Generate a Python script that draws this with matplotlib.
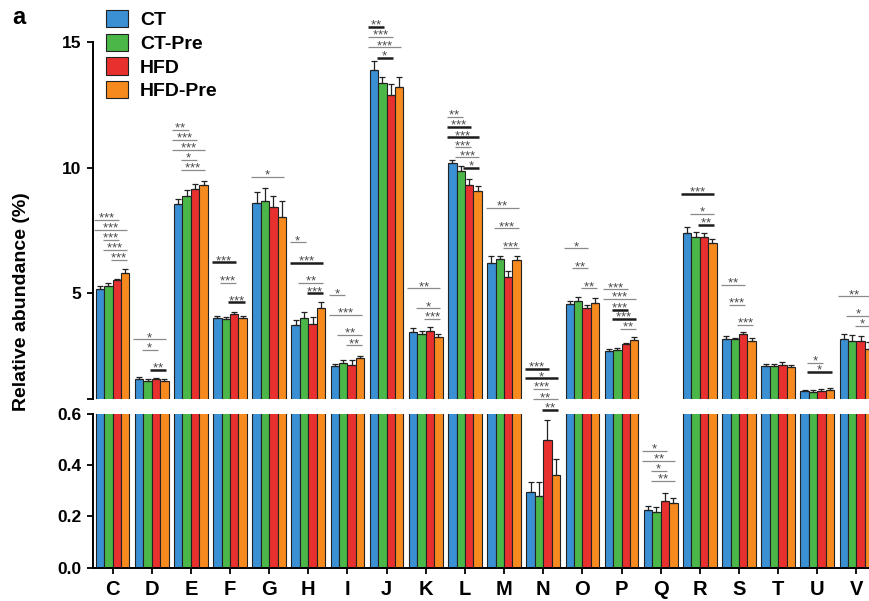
import numpy as np
import matplotlib.pyplot as plt
from matplotlib.patches import Patch

plt.rcParams['font.family'] = ['Liberation Sans', 'DejaVu Sans']
plt.rcParams['mathtext.fontset'] = 'custom'
plt.rcParams['mathtext.rm'] = 'Liberation Sans'
plt.rcParams['mathtext.it'] = 'Liberation Sans'

groups = list("CDEFGHIJKLMNOPQRSTUV")
series = ['CT', 'CT-Pre', 'HFD', 'HFD-Pre']
colors = ['#3b8fd3', '#4bb748', '#e8302f', '#f68a1f']

# mean relative abundance (%) and SEM per group
ct = [5.16, 1.58, 8.55, 4.01, 8.58, 3.75, 2.11, 13.89, 3.47, 10.17,
      6.20, 0.295, 4.57, 2.72, 0.224, 7.39, 3.18, 2.13, 1.11, 3.17]
ct_err = [0.13, 0.10, 0.19, 0.11, 0.46, 0.19, 0.10, 0.35, 0.14, 0.13,
          0.30, 0.041, 0.14, 0.05, 0.018, 0.24, 0.13, 0.08, 0.05, 0.20]
ct_pre = [5.29, 1.52, 8.87, 3.97, 8.69, 4.01, 2.25, 13.36, 3.38, 9.85,
          6.38, 0.279, 4.71, 2.74, 0.218, 7.23, 3.17, 2.12, 1.07, 3.11]
ct_pre_err = [0.11, 0.06, 0.24, 0.08, 0.49, 0.24, 0.12, 0.26, 0.13, 0.23,
              0.12, 0.057, 0.15, 0.08, 0.020, 0.21, 0.07, 0.08, 0.08, 0.22]
hfd = [5.53, 1.60, 9.14, 4.20, 8.42, 3.79, 2.17, 12.90, 3.51, 9.30,
       5.64, 0.500, 4.42, 2.97, 0.259, 7.25, 3.38, 2.15, 1.13, 3.11]
hfd_err = [0.06, 0.05, 0.21, 0.08, 0.46, 0.28, 0.18, 0.43, 0.15, 0.26,
           0.24, 0.078, 0.13, 0.04, 0.031, 0.14, 0.07, 0.11, 0.05, 0.20]
hfd_pre = [5.80, 1.50, 9.31, 4.01, 8.05, 4.41, 2.43, 13.21, 3.26, 9.07,
           6.31, 0.361, 4.63, 3.13, 0.253, 6.99, 3.09, 2.08, 1.15, 2.79]
hfd_pre_err = [0.16, 0.08, 0.16, 0.10, 0.62, 0.26, 0.10, 0.40, 0.13, 0.20,
               0.19, 0.064, 0.17, 0.12, 0.020, 0.18, 0.12, 0.09, 0.08, 0.28]

means = [ct, ct_pre, hfd, hfd_pre]
errs = [ct_err, ct_pre_err, hfd_err, hfd_pre_err]

# significance: group, first bar, last bar, stars, height, heavy line
sig_upper = [
    ('C', 0, 2, '***', 7.92, False), ('C', 0, 3, '***', 7.52, False),
    ('C', 1, 2, '***', 7.12, False), ('C', 1, 3, '***', 6.72, False),
    ('C', 2, 3, '***', 6.33, False),
    ('D', 0, 3, '*', 3.17, False), ('D', 1, 2, '*', 2.74, False),
    ('D', 2, 3, '**', 1.95, True),
    ('E', 0, 1, '**', 11.50, False), ('E', 0, 2, '***', 11.10, False),
    ('E', 0, 3, '***', 10.70, False), ('E', 1, 2, '*', 10.30, False),
    ('E', 1, 3, '***', 9.91, False),
    ('F', 0, 2, '***', 6.23, True), ('F', 1, 2, '***', 5.42, False),
    ('F', 2, 3, '***', 4.64, True),
    ('G', 0, 3, '*', 9.64, False),
    ('H', 0, 1, '*', 7.03, False), ('H', 0, 3, '***', 6.21, True),
    ('H', 1, 3, '**', 5.42, False), ('H', 2, 3, '***', 5.00, True),
    ('I', 0, 1, '*', 4.92, False), ('I', 0, 3, '***', 4.14, False),
    ('I', 1, 3, '**', 3.34, False), ('I', 2, 3, '**', 2.93, False),
    ('J', 0, 1, '**', 15.61, True), ('J', 0, 2, '***', 15.19, False),
    ('J', 0, 3, '***', 14.79, False), ('J', 1, 2, '*', 14.38, True),
    ('K', 0, 3, '**', 5.20, False), ('K', 1, 3, '*', 4.40, False),
    ('K', 2, 3, '***', 3.98, False),
    ('L', 0, 1, '**', 12.03, False), ('L', 0, 2, '***', 11.61, True),
    ('L', 0, 3, '***', 11.21, True), ('L', 1, 2, '***', 10.81, False),
    ('L', 1, 3, '***', 10.41, False), ('L', 2, 3, '*', 10.00, True),
    ('M', 0, 3, '**', 8.41, False), ('M', 1, 3, '***', 7.59, False),
    ('M', 2, 3, '***', 6.79, False),
    ('N', 0, 2, '***', 2.00, True), ('N', 0, 3, '*', 1.62, True),
    ('N', 1, 2, '***', 1.20, False), ('N', 1, 3, '**', 0.79, False),
    ('N', 2, 3, '**', 0.38, True),
    ('O', 0, 2, '*', 6.79, False), ('O', 1, 2, '**', 6.00, False),
    ('O', 2, 3, '**', 5.20, False),
    ('P', 0, 2, '***', 5.16, False), ('P', 0, 3, '***', 4.77, False),
    ('P', 1, 2, '***', 4.36, True), ('P', 1, 3, '***', 3.98, True),
    ('P', 2, 3, '**', 3.58, False),
    ('R', 0, 3, '***', 8.95, True), ('R', 1, 3, '*', 8.16, False),
    ('R', 2, 3, '**', 7.73, True),
    ('S', 0, 2, '**', 5.33, False), ('S', 1, 2, '***', 4.53, False),
    ('S', 2, 3, '***', 3.74, False),
    ('U', 1, 2, '*', 2.25, False), ('U', 1, 3, '*', 1.87, True),
    ('V', 0, 3, '**', 4.88, False), ('V', 1, 3, '*', 4.10, False),
    ('V', 2, 3, '*', 3.71, False),
]
sig_lower = [
    ('Q', 0, 2, '*', 0.457, False), ('Q', 0, 3, '**', 0.417, False),
    ('Q', 1, 2, '*', 0.378, False), ('Q', 1, 3, '**', 0.339, False),
]

w = 0.215
x = np.arange(len(groups))


def draw_bars(ax):
    for k in range(4):
        xs = x + (k - 1.5) * w
        ax.bar(xs, means[k], w, color=colors[k], edgecolor='#222222',
               linewidth=0.8, zorder=2)
        ax.errorbar(xs, means[k], yerr=[np.zeros(len(x)), errs[k]], fmt='none',
                    ecolor='#222222', elinewidth=0.9, capsize=2.5,
                    capthick=0.9, zorder=3)


def star_text(s):
    # braces keep mathtext from spacing the asterisks like operators
    return '$' + ''.join('{*}' for _ in s) + '$'


def draw_marks(ax, marks):
    for g, i, j, txt, y, heavy in marks:
        xc = groups.index(g)
        x0 = xc + (i - 2) * w - 0.04
        x1 = xc + (j - 1) * w - 0.06
        if heavy:
            ax.plot([x0, x1], [y, y], color='#1c1c1c', lw=1.8,
                    solid_capstyle='butt', clip_on=False, zorder=4)
        else:
            ax.plot([x0, x1], [y, y], color='#8a8a8a', lw=0.9,
                    solid_capstyle='butt', clip_on=False, zorder=4)
        ax.annotate(star_text(txt), xy=((x0 + x1) / 2, y), xytext=(0, -0.5),
                    textcoords='offset points', ha='center', va='baseline',
                    fontsize=9.5, color='#4a4a4a', annotation_clip=False)


fig = plt.figure(figsize=(8.7, 6.01), dpi=100)
ax_top = fig.add_axes([0.1069, 0.3361, 0.9, 0.594])
ax_bot = fig.add_axes([0.1069, 0.0554, 0.9, 0.2557])

for ax in (ax_top, ax_bot):
    draw_bars(ax)
    ax.set_xlim(-0.5, 19.5)
    ax.spines['top'].set_visible(False)
    ax.spines['right'].set_visible(False)
    ax.spines['left'].set_linewidth(1.4)
    ax.spines['bottom'].set_linewidth(1.4)
    ax.tick_params(direction='out', length=4.5, width=1.3, labelsize=12.5, pad=4)

ax_top.set_ylim(0.8, 15)
ax_top.spines['bottom'].set_visible(False)
ax_top.set_xticks([])
ax_top.set_yticks([0.8, 5, 10, 15])
ax_top.set_yticklabels(['', '5', '10', '15'], fontweight='bold')

ax_bot.set_ylim(0, 0.6)
ax_bot.set_yticks([0, 0.2, 0.4, 0.6])
ax_bot.set_yticklabels(['0.0', '0.2', '0.4', '0.6'], fontweight='bold')
ax_bot.set_xticks(x)
ax_bot.set_xticklabels(groups, fontweight='bold', fontsize=14.5)
ax_bot.tick_params(axis='x', length=4, pad=5)

draw_marks(ax_top, sig_upper)
draw_marks(ax_bot, sig_lower)

fig.text(0.025, 0.4975, 'Relative abundance (%)', rotation=90, ha='center',
         va='center', fontsize=14, fontweight='bold')
fig.text(12 / 870, 1 - 23.5 / 601, 'a', fontsize=17, fontweight='bold',
         va='baseline', ha='left')

handles = [Patch(facecolor=c, edgecolor='#222222', linewidth=0.8) for c in colors]
fig.legend(handles, series, loc='upper left', bbox_to_anchor=(106 / 870, 1 - 10 / 601),
           frameon=False, prop={'size': 14, 'weight': 'bold'},
           handlelength=1.15, handleheight=1.0, handletextpad=0.6,
           labelspacing=0.22, borderpad=0, borderaxespad=0)

fig.savefig('out.png', dpi=100)
